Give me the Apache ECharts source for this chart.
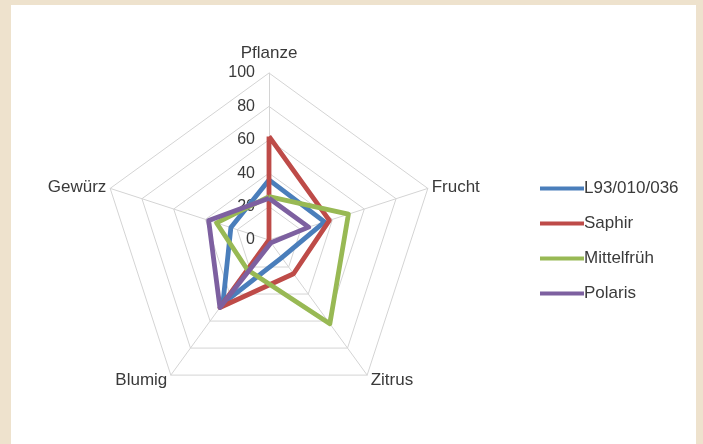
<!DOCTYPE html>
<html>
<head>
<meta charset="utf-8">
<script src="https://cdn.jsdelivr.net/npm/echarts@6/dist/echarts.min.js"></script>
<style>
  html, body { margin: 0; padding: 0; background: #eee2cd; }
  #frame { position: absolute; left: 11px; top: 5px; width: 685px; height: 439px; background: #ffffff; }
  #chart { position: absolute; left: 0; top: 0; width: 703px; height: 444px; }
</style>
</head>
<body>
<div id="frame"></div>
<div id="chart"></div>
<script>
// Aroma profile categories (clockwise from the top)
const categories = ['Pflanze', 'Frucht', 'Zitrus', 'Blumig', 'Gewürz'];
const scaleMax = 100;
const scaleInterval = 20;

// Scores per variety, in category order
const seriesNames = ['L93/010/036', 'Saphir', 'Mittelfrüh', 'Polaris'];
const valuesL93 = [36, 35, 13, 47, 24];
const valuesSaphir = [62, 38, 25, 50, 0];
const valuesMittelfrueh = [26, 50, 62, 22, 33];
const valuesPolaris = [25, 25, 2, 50, 38];
const seriesColors = ['#4a7ebb', '#be4b48', '#98b954', '#7d60a0'];

// ECharts lays indicators out counter-clockwise, so walk the categories backwards after the first
const order = [0, 4, 3, 2, 1];
const pick = arr => order.map(i => arr[i]);

const gapByName = { 'Pflanze': 11, 'Frucht': 4, 'Zitrus': 6, 'Blumig': 6, 'Gewürz': 4 };

const indicators = order.map((i, k) => {
  const ind = { name: categories[i], min: 0, max: scaleMax, nameGap: gapByName[categories[i]] };
  if (k === 0) {
    ind.axisLabel = { show: true, color: '#3a3a3a', fontSize: 16, margin: 14, showMinLabel: true, showMaxLabel: true };
  }
  return ind;
});

const allValues = [valuesL93, valuesSaphir, valuesMittelfrueh, valuesPolaris];

const chart = echarts.init(document.getElementById('chart'), null, { renderer: 'canvas' });
chart.setOption({
  animation: false,
  textStyle: { fontFamily: 'Liberation Sans, Arial, sans-serif' },
  legend: {
    orient: 'vertical',
    left: 535,
    top: 175,
    itemWidth: 44,
    itemHeight: 4,
    itemGap: 18,
    icon: 'rect',
    textStyle: { color: '#3a3a3a', fontSize: 17, padding: [0, 0, 0, -5] },
    data: seriesNames
  },
  radar: {
    center: [269, 240],
    radius: 167,
    shape: 'polygon',
    splitNumber: scaleMax / scaleInterval,
    indicator: indicators,
    axisName: { color: '#3a3a3a', fontSize: 17 },
    axisLine: { lineStyle: { color: '#d4d4d4', width: 1 } },
    splitLine: { lineStyle: { color: '#d4d4d4', width: 1 } },
    splitArea: { show: false },
    axisTick: { show: false },
    axisLabel: { show: false }
  },
  series: [{
    type: 'radar',
    symbol: 'none',
    data: allValues.map((vals, s) => ({
      name: seriesNames[s],
      value: pick(vals),
      lineStyle: { color: seriesColors[s], width: 4.8, join: 'round' },
      itemStyle: { color: seriesColors[s] }
    }))
  }]
});
</script>
</body>
</html>
